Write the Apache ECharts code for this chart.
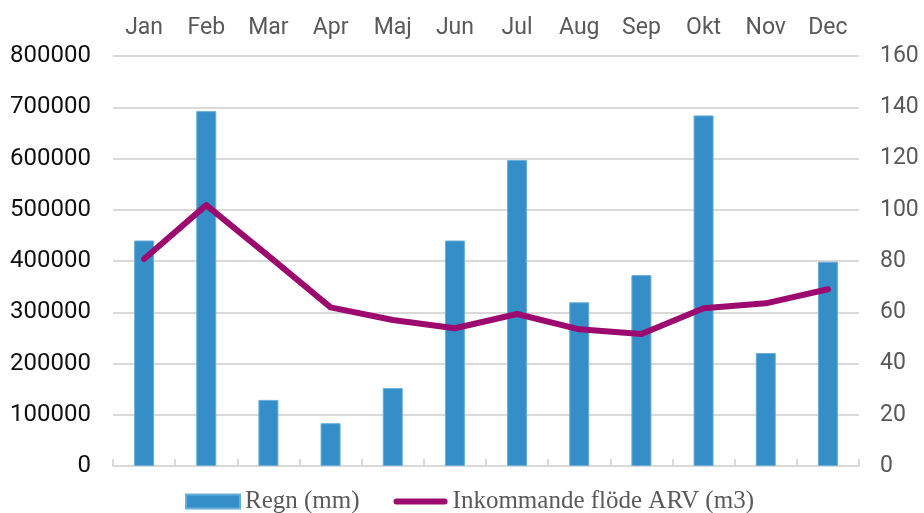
<!DOCTYPE html>
<html>
<head>
<meta charset="utf-8">
<script src="https://cdn.jsdelivr.net/npm/echarts@6/dist/echarts.min.js"></script>
<style>
  html, body { margin: 0; padding: 0; background: #fff; }
  #chart { width: 924px; height: 513px; }
</style>
</head>
<body>
<div id="chart"></div>
<script>
const months = ["Jan", "Feb", "Mar", "Apr", "Maj", "Jun", "Jul", "Aug", "Sep", "Okt", "Nov", "Dec"];
const rain = [88, 138.5, 25.8, 16.7, 30.4, 88, 119.4, 63.9, 74.5, 136.8, 44.1, 79.7];
const inflow = [404000, 509000, 410000, 309600, 285000, 268700, 296600, 266700, 257600, 307700, 317400, 344800];
const rainName = "Regn (mm)";
const inflowName = "Inkommande flöde ARV (m3)";

const chart = echarts.init(document.getElementById("chart"));
const gridColor = "#d9d9d9";
const labelFont = "Roboto";
// thin rounded bar used as the legend mark of the line
const lineIcon = "path://M3,0 L52,0 A3,3 0 0 1 52,6 L3,6 A3,3 0 0 1 3,0 Z";

chart.setOption({
  animation: false,
  grid: { left: 113, right: 65, top: 56, bottom: 47 },
  legend: {
    left: 180,
    top: 484,
    itemWidth: 54,
    itemHeight: 14,
    itemGap: 34,
    textStyle: { fontFamily: "Liberation Serif", fontSize: 25, color: "#595959" },
    data: [
      { name: rainName, icon: "rect" },
      { name: inflowName, icon: lineIcon }
    ]
  },
  xAxis: {
    type: "category",
    position: "top",
    data: months,
    boundaryGap: true,
    axisLine: { lineStyle: { color: gridColor, width: 2 } },
    axisTick: { show: true, length: 7, lineStyle: { color: gridColor, width: 2 } },
    axisLabel: { color: "#595959", fontFamily: labelFont, fontSize: 23, margin: 16 }
  },
  yAxis: [
    {
      type: "value",
      min: 0,
      max: 800000,
      interval: 100000,
      axisLine: { show: false },
      axisTick: { show: false },
      axisLabel: { color: "#111", fontFamily: labelFont, fontSize: 24, margin: 22, formatter: (v) => String(v) },
      splitLine: { lineStyle: { color: gridColor, width: 2 } }
    },
    {
      type: "value",
      min: 0,
      max: 160,
      interval: 20,
      axisLine: { show: false },
      axisTick: { show: false },
      axisLabel: { color: "#595959", fontFamily: labelFont, fontSize: 23, margin: 21 },
      splitLine: { show: false }
    }
  ],
  series: [
    {
      name: rainName,
      type: "bar",
      yAxisIndex: 1,
      data: rain,
      barWidth: 20,
      itemStyle: { color: "#358ec7", borderColor: "#6aaedb", borderWidth: 1 }
    },
    {
      name: inflowName,
      type: "line",
      yAxisIndex: 0,
      data: inflow,
      symbol: "none",
      z: 5,
      lineStyle: { color: "#9c0a70", width: 6, cap: "round", join: "round" },
      itemStyle: { color: "#9c0a70" }
    }
  ]
});
</script>
</body>
</html>
